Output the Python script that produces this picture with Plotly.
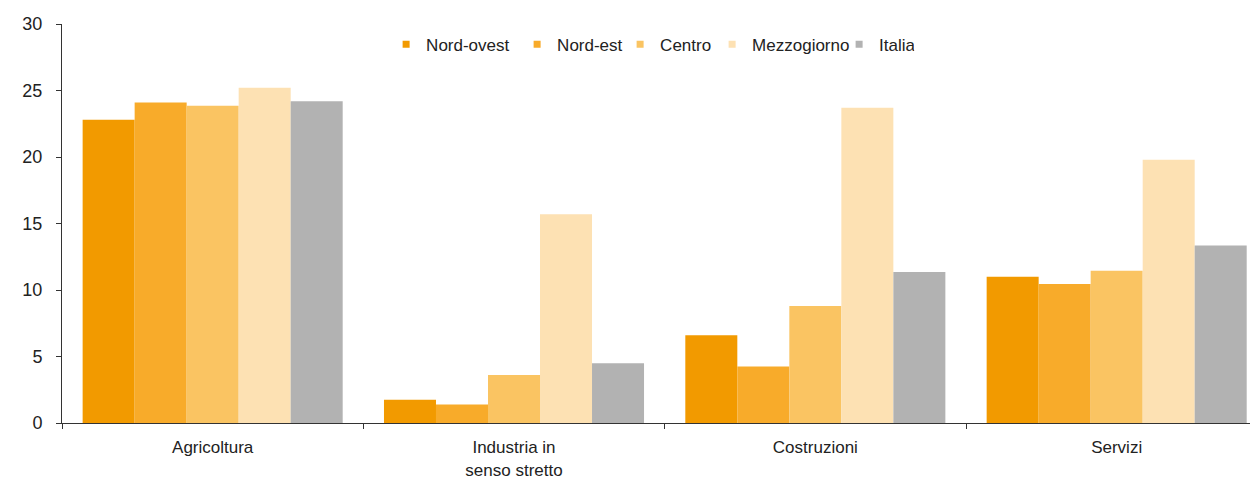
import plotly.graph_objects as go

# settori e ripartizioni
categories = ["Agricoltura", "Industria in<br>senso stretto", "Costruzioni", "Servizi"]
series_names = ["Nord-ovest", "Nord-est", "Centro", "Mezzogiorno", "Italia"]

nord_ovest = [22.8, 1.75, 6.6, 11.0]
nord_est = [24.1, 1.4, 4.25, 10.45]
centro = [23.85, 3.6, 8.8, 11.45]
mezzogiorno = [25.2, 15.7, 23.7, 19.8]
italia = [24.2, 4.5, 11.35, 13.35]

y_ticks = [0, 5, 10, 15, 20, 25, 30]

colors = ["#F29A00", "#F8AB2A", "#FAC462", "#FDE1B3", "#B2B2B2"]
legend_widths = [86, 58, 47, 82, 30]
FONT = "Liberation Sans, Arial, sans-serif"

fig = go.Figure()
for name, vals, col, lw in zip(series_names,
                               [nord_ovest, nord_est, centro, mezzogiorno, italia],
                               colors, legend_widths):
    fig.add_trace(go.Bar(x=categories, y=vals, name=name, marker_color=col,
                         marker_line_width=0, showlegend=False))
    # small square markers for the legend only
    fig.add_trace(go.Scatter(x=[None], y=[None], mode="markers", name=name,
                             legendwidth=lw,
                             marker=dict(symbol="square", size=7, color=col)))

# the page body has an 8px margin, so the figure is sized/offset to compensate
fig.update_layout(
    width=1250, height=473,
    margin=dict(l=54, r=0, t=16, b=58),
    paper_bgcolor="white", plot_bgcolor="white",
    barmode="group", bargap=0.137, bargroupgap=0,
    font=dict(family=FONT, size=18, color="#222222"),
    legend=dict(orientation="h", x=0.271, xanchor="left", y=0.948, yanchor="middle",
                itemwidth=30, font=dict(size=17), bgcolor="rgba(0,0,0,0)",
                traceorder="normal"),
    xaxis=dict(range=[-0.5, 3.469], showline=True, linecolor="#333333", linewidth=1,
               ticks="outside", ticklen=5, tickcolor="#333333", tickson="boundaries",
               showgrid=False, ticklabelstandoff=9, tickfont=dict(size=17),
               automargin=False),
    yaxis=dict(range=[0, 30], tickvals=y_ticks, showline=True, linecolor="#333333",
               linewidth=1, ticks="outside", ticklen=5, tickcolor="#333333",
               showgrid=False, zeroline=False, ticklabelstandoff=10, automargin=False),
)

fig.write_html("out.html")
